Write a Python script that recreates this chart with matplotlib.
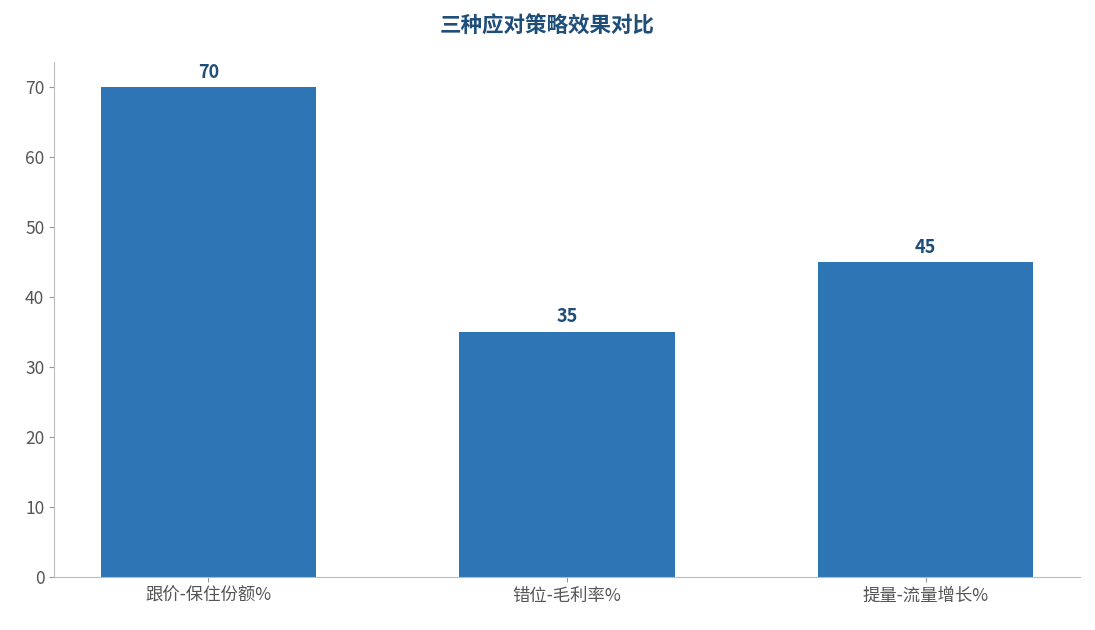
import matplotlib
matplotlib.use('Agg')
import matplotlib.pyplot as plt

plt.rcParams['font.family'] = ['Noto Sans CJK SC', 'DejaVu Sans']

categories = ['跟价-保住份额%', '错位-毛利率%', '提量-流量增长%']
values = [70, 35, 45]
title = '三种应对策略效果对比'

fig = plt.figure(figsize=(10.95, 6.3), dpi=100)
ax = fig.add_axes([54 / 1095, 53 / 630, 1026 / 1095, 515 / 630])

bars = ax.bar(range(len(categories)), values, width=0.6, color='#2E75B6')
for b, v in zip(bars, values):
    ax.text(b.get_x() + b.get_width() / 2, v + 0.8, str(v), ha='center', va='bottom',
            fontsize=13, fontweight='bold', color='#1F4E79')

ax.set_xlim(-0.43, 2.43)
ax.set_ylim(0, 73.6)
ax.set_xticks(range(len(categories)))
ax.set_xticklabels(categories)
ax.tick_params(colors='#555555', labelsize=12.5)
ax.tick_params(axis='both', color='#999999')
for s in ['top', 'right']:
    ax.spines[s].set_visible(False)
for s in ['left', 'bottom']:
    ax.spines[s].set_color('#BBBBBB')

fig.suptitle(title, y=0.975, fontsize=15.5, fontweight='bold', color='#1F4E79')
fig.savefig('out.png', dpi=100)
